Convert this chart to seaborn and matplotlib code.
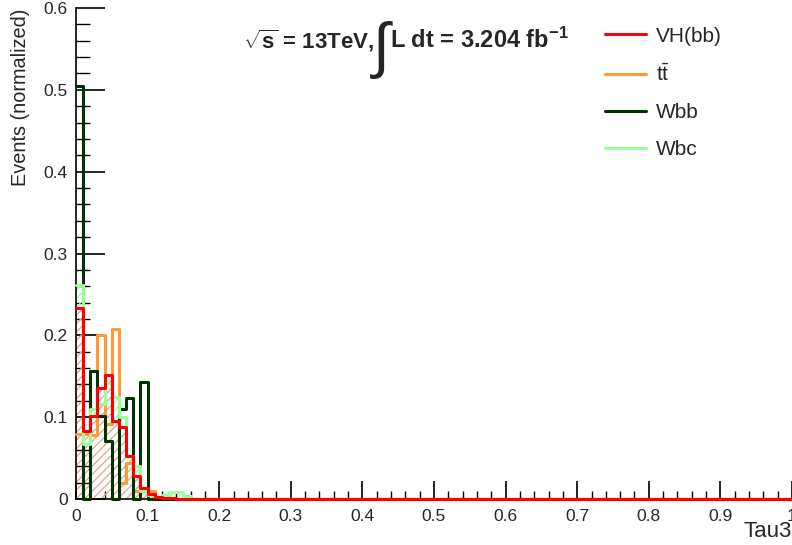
import numpy as np
import pandas as pd
import seaborn as sns
import matplotlib
matplotlib.use("Agg")
import matplotlib.pyplot as plt
from matplotlib.ticker import MultipleLocator

# --- data: normalized Tau3 distributions, 100 bins of width 0.01 on [0, 1] ---
n_bins = 100
bin_centers = (np.arange(n_bins) + 0.5) / n_bins

# first 16 bins, everything after is empty
vh_bb = [0.233, 0.083, 0.101, 0.136, 0.151, 0.095, 0.088, 0.052,
         0.028, 0.013, 0.006, 0.003, 0.001, 0.001, 0.000, 0.000]
ttbar = [0.080, 0.080, 0.078, 0.200, 0.092, 0.208, 0.020, 0.044,
         0.010, 0.012, 0.010, 0.000, 0.000, 0.000, 0.000, 0.000]
wbb = [0.505, 0.000, 0.156, 0.101, 0.071, 0.000, 0.110, 0.123,
       0.000, 0.143, 0.000, 0.000, 0.000, 0.000, 0.000, 0.000]
wbc = [0.262, 0.067, 0.110, 0.116, 0.142, 0.125, 0.100, 0.052,
       0.040, 0.010, 0.005, 0.002, 0.005, 0.008, 0.008, 0.004]

samples = ["VH(bb)", r"$\mathrm{t\bar{t}}$", "Wbb", "Wbc"]
values = [vh_bb, ttbar, wbb, wbc]
colours = ["#ff0000", "#ff9933", "#003300", "#99ff99"]

def hist_frame(v):
    w = list(v) + [0.0] * (n_bins - len(v))
    return pd.DataFrame({"x": bin_centers, "w": w})

sns.set_style("white")
plt.rcParams["font.family"] = ["Liberation Sans", "DejaVu Sans"]
plt.rcParams["mathtext.fontset"] = "custom"
plt.rcParams["mathtext.rm"] = "Liberation Sans"
plt.rcParams["mathtext.it"] = "Liberation Sans:italic"
plt.rcParams["mathtext.bf"] = "Liberation Sans:bold"
plt.rcParams["hatch.linewidth"] = 0.8

fig = plt.figure(figsize=(7.92, 5.45), dpi=100)
ax = fig.add_axes([76 / 792, 1 - 499 / 545, 716 / 792, 491 / 545])

# hatched fills under Wbc and VH(bb)
for v, c in [(wbc, "#99ff99"), (vh_bb, "#ff9999")]:
    n_before = len(ax.collections)
    sns.histplot(data=hist_frame(v), x="x", weights="w", binwidth=0.01,
                 binrange=(0, 1), element="step", fill=True, color=c,
                 linewidth=0, ax=ax)
    for coll in ax.collections[n_before:]:
        coll.set_facecolor("none")
        coll.set_edgecolor(c)
        coll.set_hatch("////")
        coll.set_linewidth(0)

# outlines, VH(bb) drawn last so it sits on top
order = [1, 2, 3, 0]
for i in order:
    sns.histplot(data=hist_frame(values[i]), x="x", weights="w", binwidth=0.01,
                 binrange=(0, 1), element="step", fill=False,
                 color=colours[i], linewidth=2.2, ax=ax, label=samples[i],
                 clip_on=False, zorder=3)

ax.set_xlim(0, 1)
ax.set_ylim(0, 0.6)
ax.xaxis.set_minor_locator(MultipleLocator(0.02))
ax.yaxis.set_minor_locator(MultipleLocator(0.02))
ax.set_xticks(np.arange(0, 1.01, 0.1))
ax.set_xticklabels(["0", "0.1", "0.2", "0.3", "0.4", "0.5", "0.6", "0.7", "0.8", "0.9", "1"])
ax.set_yticks(np.arange(0, 0.61, 0.1))
ax.set_yticklabels(["0", "0.1", "0.2", "0.3", "0.4", "0.5", "0.6"])
ax.tick_params(axis="both", which="both", direction="in", labelsize=12.5,
               color="black", bottom=True, left=True, top=False, right=False)
ax.tick_params(axis="y", which="major", length=21, width=1.2, pad=6)
ax.tick_params(axis="y", which="minor", length=10, width=1.0)
ax.tick_params(axis="x", which="major", length=13, width=1.2, pad=7)
ax.tick_params(axis="x", which="minor", length=6, width=1.0)
for side in ["top", "right"]:
    ax.spines[side].set_visible(False)
for side in ["left", "bottom"]:
    ax.spines[side].set_color("black")
    ax.spines[side].set_linewidth(1.2)

ax.set_ylabel("Events (normalized)", fontsize=14.3, loc="top")
ax.yaxis.set_label_coords(-0.064, 1.0)
ax.set_xlabel("Tau3", fontsize=16, loc="right")
ax.xaxis.set_label_coords(1.0, -0.044)

# sqrt(s) and luminosity label, with a tall integral sign like the original
fig.text(243 / 792, 1 - 48 / 545, r"$\sqrt{\mathbf{s}}$ = 13TeV,",
         fontsize=16, fontweight="bold", ha="left", va="baseline")
fig.text(381 / 792, 1 - 50 / 545, "\u222b", fontsize=44, ha="center",
         va="center")
fig.text(390 / 792, 1 - 48 / 545, r"L dt = 3.204 fb$^{\mathbf{-1}}$",
         fontsize=17, fontweight="bold", ha="left", va="baseline")

handles, labels = ax.get_legend_handles_labels()
lookup = dict(zip(labels, handles))
ax.legend([lookup[s] for s in samples], samples, loc="upper left",
          bbox_to_anchor=(0.712, 1.0), frameon=False, fontsize=15,
          handlelength=2.0, handletextpad=0.45, labelspacing=0.85)

fig.savefig("out.png", dpi=100)
